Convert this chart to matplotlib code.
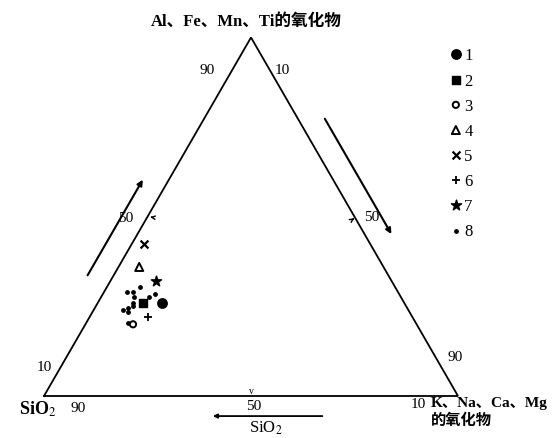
import numpy as np
import matplotlib
matplotlib.use("Agg")
import matplotlib.pyplot as plt

plt.rcParams['font.family'] = ['Liberation Serif', 'DejaVu Serif', 'Noto Sans CJK SC']
plt.rcParams['mathtext.fontset'] = 'stix'

# composition in % : SiO2, K/Na/Ca/Mg oxides, Al/Fe/Mn/Ti oxides
group = [1, 2, 3, 4, 5, 6, 7, 8, 8, 8, 8, 8, 8, 8, 8, 8, 8, 8, 8]
sio2 = [58.5, 63, 68.5, 59, 54.5, 64, 57, 61.5, 65.5, 64, 64.5, 59, 61, 65.5, 69, 67.5, 66, 68, 69.5]
kna = [15.5, 11, 11.5, 5, 3, 14, 11, 8, 5.5, 7, 8, 12.5, 11.5, 8.5, 7, 8, 9, 8.5, 10]
alfe = [26, 26, 20, 36, 42.5, 22, 32, 30.5, 29, 29, 27.5, 28.5, 27.5, 26, 24, 24.5, 25, 23.5, 20.5]

tick_vals = [90, 50, 10]

# marker styles for groups 1..8
styles = {
    1: dict(marker='o', s=46, facecolors='black', edgecolors='black'),
    2: dict(marker='s', s=28, facecolors='black', edgecolors='black'),
    3: dict(marker='o', s=20, facecolors='none', edgecolors='black', linewidths=1.4),
    4: dict(marker='^', s=34, facecolors='none', edgecolors='black', linewidths=1.4),
    5: dict(marker='x', s=32, color='black', linewidths=1.6),
    6: dict(marker='+', s=36, color='black', linewidths=1.3),
    7: dict(marker='*', s=60, color='black'),
    8: dict(marker='o', s=6, color='black'),
}

SQ = np.sqrt(3) / 2


def tern(s, k, a):
    s, k, a = np.asarray(s, float), np.asarray(k, float), np.asarray(a, float)
    tot = s + k + a
    k, a = k / tot, a / tot
    return k + a / 2, a * SQ


def main():
    fig = plt.figure(figsize=(5.56, 4.38), dpi=100)
    ax = fig.add_axes([0, 0, 1, 1])
    side = 414.0
    ax.set_xlim(-44 / side, (556 - 44) / side)
    ax.set_ylim((396 - 438) / side, 396 / side)
    ax.axis('off')

    # triangle
    tx, ty = tern([100, 0, 0, 100], [0, 100, 0, 0], [0, 0, 100, 0])
    ax.plot(tx, ty, color='black', lw=1.3, solid_joinstyle='miter')

    # points
    g = np.array(group)
    xs, ys = tern(sio2, kna, alfe)
    for i in range(1, 9):
        m = g == i
        ax.scatter(xs[m], ys[m], label=str(i), zorder=3, **styles[i])

    ax.legend(loc='upper left', bbox_to_anchor=(440 / 556, 1 - 40 / 438),
              frameon=False, fontsize=12, handletextpad=0.05,
              labelspacing=0.55, borderpad=0, handlelength=0.9,
              scatteryoffsets=[0.5])

    # tick labels: left edge (Al...), right edge (K...), base (SiO2)
    for v in tick_vals:
        x, y = tern(100 - v, 0, v)
        off = {90: (-23, 3), 50: (-22, -2), 10: (-20, -7)}[v]
        ax.annotate(str(v), (x, y), xytext=off, textcoords='offset pixels',
                    ha='center', va='center', fontsize=11)
        x, y = tern(0, v, 100 - v)
        off = {10: (11, 3), 50: (17, -1), 90: (18, 3)}[v]
        ax.annotate(str(v), (x, y), xytext=off, textcoords='offset pixels',
                    ha='center', va='center', fontsize=11)
        x, y = tern(v, 100 - v, 0)
        off = {90: (-7, -12), 50: (3, -10), 10: (2, -9)}[v]
        ax.annotate(str(v), (x, y), xytext=off, textcoords='offset pixels',
                    ha='center', va='center', fontsize=11)

    # small arrow marks at the 50 ticks
    small = dict(arrowstyle='->', lw=1.0, color='black', mutation_scale=6)
    x, y = tern(50, 0, 50)
    ax.annotate('', (x, y), xytext=(8, -1), textcoords='offset pixels',
                arrowprops=small)
    x, y = tern(0, 50, 50)
    ax.annotate('', (x + 0.005, y), xytext=(-6, -4), textcoords='offset pixels',
                arrowprops=small)
    x, y = tern(50, 50, 0)
    ax.annotate('v', (x, y), xytext=(0, 5), textcoords='offset pixels',
                ha='center', va='center', fontsize=7)

    # direction arrows beside the edges
    arrow = dict(arrowstyle='-|>', lw=1.5, color='black', mutation_scale=8)
    p0, p1 = tern(73.3, -6.3, 33), tern(45.3, -6.3, 61)
    ax.annotate('', p1, xytext=p0, arrowprops=arrow)
    p0, p1 = tern(-6.5, 28.5, 78), tern(-6.5, 62, 44.5)
    ax.annotate('', p1, xytext=p0, arrowprops=arrow)
    p0, p1 = tern(34.9, 70.7, -5.6), tern(62.7, 42.9, -5.6)
    ax.annotate('', p1, xytext=p0, arrowprops=dict(arrowstyle='-|>', lw=1.3,
                color='black', mutation_scale=6))

    # corner labels
    fig.text(246 / 556, 1 - 22 / 438, 'Al、Fe、Mn、Ti的氧化物', ha='center',
             va='center', fontsize=12, fontweight='bold')
    fig.text(38 / 556, 1 - 409 / 438, 'SiO$_2$', ha='center', va='center',
             fontsize=13, fontweight='bold')
    fig.text(431 / 556, 1 - 404 / 438, 'K、Na、Ca、Mg', ha='left', va='center',
             fontsize=11, fontweight='bold')
    fig.text(431 / 556, 1 - 421 / 438, '的氧化物', ha='left', va='center',
             fontsize=11, fontweight='bold')
    fig.text(266 / 556, 1 - 428 / 438, 'SiO$_2$', ha='center', va='center',
             fontsize=12)

    fig.savefig('out.png', dpi=100)


if __name__ == "__main__":
    main()
